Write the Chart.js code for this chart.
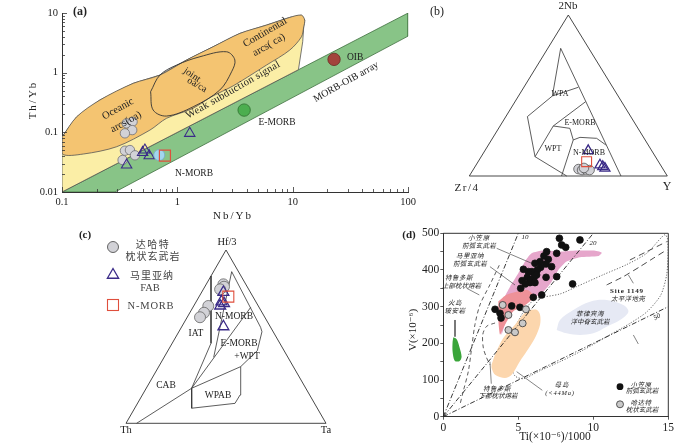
<!DOCTYPE html>
<html><head><meta charset="utf-8">
<script src="https://cdn.jsdelivr.net/npm/chart.js@4.4.1/dist/chart.umd.min.js"></script>
<style>
html,body{margin:0;padding:0;background:#fff}
body{width:700px;height:444px;position:relative;overflow:hidden}
canvas{position:absolute}
</style></head><body>
<canvas id="cd" style="left:400px;top:220px" width="300" height="224"></canvas>
<canvas id="cc" style="left:0px;top:220px" width="420" height="224"></canvas>
<canvas id="ca" style="left:0px;top:0px" width="420" height="225"></canvas>
<canvas id="cb" style="left:420px;top:0px" width="280" height="220"></canvas>
<script>
const SERIF='"Liberation Serif","DejaVu Serif",serif';
const CJK='"Noto Sans CJK SC","Noto Sans CJK JP",sans-serif';

// ================= (a) Th/Yb vs Nb/Yb =================
const aXMajor=[0.1,1,10,100], aXLabels=['0.1','1','10','100'];
const aYMajor=[0.01,0.1,1,10], aYLabels=['0.01','0.1','1','10'];
const aGrayNbYb=[0.363,0.409,0.406,0.351,0.351,0.388,0.429,0.335];
const aGrayThYb=[0.1415,0.151,0.109,0.0962,0.0492,0.0505,0.0412,0.0344];
const aTriNbYb=[0.363,0.523,0.50,0.57,1.28];
const aTriThYb=[0.0283,0.0505,0.046,0.0406,0.0962];
const aNmorbNbYb=[0.696], aNmorbThYb=[0.0416];
const aSquareNbYb=[0.78], aSquareThYb=[0.0406];
const aEmorbNbYb=[3.79], aEmorbThYb=[0.236];
const aOibNbYb=[22.8], aOibThYb=[1.67];
const aArcField=[[0.1006,0.0844],[0.134,0.182],[0.213,0.348],[0.414,0.662],[0.706,0.912],[1.20,1.63],[2.04,2.72],[3.48,4.55],[5.92,6.27],[9.42,8.44],[11.9,9.22],[12.7,7.6],[12.45,5.87],[11.9,3.99],[9.42,2.39],[5.92,1.34],[3.04,0.60],[2.0,0.40],[1.35,0.25],[0.806,0.172],[0.578,0.109],[0.298,0.0574],[0.153,0.0433],[0.1006,0.0433],[0.1006,0.0844]];
const aWeakField=[[0.1,0.0844],[0.134,0.182],[0.213,0.348],[0.414,0.662],[0.706,0.912],[1.20,1.63],[2.04,2.72],[3.48,4.55],[5.92,6.27],[9.42,8.44],[11.9,9.22],[12.7,7.6],[12.45,5.87],[12.2,3.3],[11.2,1.12],[0.1,0.01],[0.1,0.0844]];
const aMorbOibArray=[[0.1,0.01],[100,10],[100,4.1],[0.288,0.01],[0.1,0.01]];
const aJointField=[[0.586,0.479],[0.706,0.912],[0.984,1.34],[1.57,1.85],[2.67,2.24],[3.15,1.63],[2.95,1.035],[2.33,0.511],[1.37,0.268],[0.806,0.1875],[0.617,0.236],[0.586,0.479]];

// ================= (b) 2Nb - Zr/4 - Y  [2Nb, Zr/4, Y] =================
const bOuter=[[100,0,0],[0,100,0],[0,0,100],[100,0,0]];
const bLines=[
 [[79.3,14.2,6.5],[0,23.4,76.6]],
 [[79.3,14.2,6.5],[49.7,33.2,17.1],[36.9,52.2,10.9],[12.0,60.8,27.2],[0,50.8,49.2]],
 [[49.7,33.2,17.1],[55.1,17.4,27.5]],
 [[31.1,42.1,26.9],[46.2,18.2,35.7]],
 [[12.0,60.8,27.2],[31.1,42.1,26.9],[29.6,34.4,36.0],[22.4,36.3,41.3],[0,53.4,46.6]],
 [[22.4,36.3,41.3],[24.0,32.1,43.9],[23.4,24.0,52.6],[19.3,21.4,59.3]]
];
const bGray=[[4.3,42.7,53.0],[3.7,41.2,55.1],[4.0,39.0,57.0],[3.7,37.4,58.9],[5.0,39.6,55.4]];
const bTri=[[15.7,32.1,52.2],[6.8,30.6,62.6],[5.8,29.7,64.5],[4.8,29.1,66.1]];
const bSquare=[[8.9,36.3,54.8]];

// ================= (c) Hf/3 - Th - Ta  [Hf/3, Th, Ta] =================
const cOuter=[[100,0,0],[0,100,0],[0,0,100],[100,0,0]];
const cLines=[
 [[85.0,15.0,0],[46.2,34.4,19.4],[20.2,57.1,22.7]],
 [[0,94.7,5.3],[20.2,57.1,22.7]],
 [[87.5,3.4,9.1],[38.1,37.1,24.8]],
 [[20.2,57.1,22.7],[66.9,4.2,28.9]],
 [[87.5,3.4,9.1],[55.4,5.0,39.6],[52.9,5.6,41.6],[41.9,13.4,44.7],[32.7,26.3,41.0]],
 [[20.2,57.1,22.7],[8.7,62.8,28.5],[11.5,39.7,48.7],[16.3,34.8,48.8],[32.7,26.3,41.0],[20.2,57.1,22.7]]
];
const cGray=[[80.2,11.2,8.6],[78.8,11.6,9.6],[77.3,14.3,8.4],[67.7,25.0,7.3],[63.8,29.1,7.1],[61.2,32.4,6.4]];
const cTri=[[75.6,13.5,10.9],[70.2,17.2,12.6],[69.2,16.4,14.4],[67.7,19.0,13.2],[55.8,23.4,20.8]];
const cSquare=[[73.1,12.3,14.6]];

// ================= (d) V vs Ti/1000 =================
const dXTicks=[0,5,10,15], dXLabels=['0','5','10','15'];
const dYTicks=[0,50,100,150,200,250,300,350,400,450,500];
const dYMajor=[0,100,200,300,400,500], dYLabels=['0','100','200','300','400','500'];
const dBlackTi=[7.74,9.11,7.89,8.16,7.56,6.89,6.71,7.0,6.45,6.11,6.85,6.49,5.34,6.27,5.91,5.60,5.83,5.25,6.05,5.78,5.47,6.11,6.85,7.56,5.16,8.62,6.56,6.0,3.45,3.78,3.85,4.56,5.11,7.22,6.22,5.67];
const dBlackV=[486.4,481.9,468.2,461.9,445.5,450,438.2,429.1,422.8,418.2,416.4,407.3,401.9,400,395.5,380,372.8,371,380,365.5,361.9,365.5,380,381.8,350,361.9,331.9,325.5,292.8,281.9,269.1,301.9,298.2,409.1,386.4,395.5];
const dGrayTi=[3.96,4.34,5.51,5.29,4.34,4.78];
const dGrayV=[304.6,277.3,292.8,254.6,236.4,230.1];
const dTiV10=[[0,0],[5,500]], dTiV20=[[0,0],[10,500]], dTiV50=[[0,0],[15,300]];
const dPinkField=[[3.89,222.8],[3.78,272.8],[4.0,318.2],[4.45,354.6],[5.0,391],[5.51,427.3],[5.89,445.5],[6.67,452.8],[7.78,450],[8.89,452.8],[10.0,452.8],[10.56,447.3],[10.34,438.2],[9.11,434.6],[8.22,422.8],[7.67,400],[7.22,368.2],[6.67,341],[6.0,322.8],[5.11,309.1],[4.22,263.7],[3.89,222.8]];
const dRedField=[[3.67,314.6],[4.22,332.8],[5.56,346.4],[6.0,332.8],[5.89,319.1],[5.34,300.9],[4.67,287.3],[4.0,241.9],[3.78,223.7],[3.67,263.7],[3.67,314.6]];
const dPeachField=[[3.22,141.9],[3.45,169.2],[4.0,214.6],[4.78,251],[5.56,287.3],[6.22,291.9],[6.45,278.2],[6.45,251],[6.11,214.6],[5.56,178.3],[5.11,151],[4.56,114.6],[4.11,105.5],[3.45,114.6],[3.22,132.8],[3.22,141.9]];
const dGreenField=[[0.67,216.4],[0.89,211],[1.07,191],[1.22,163.7],[1.07,151],[0.76,152.8],[0.62,177.3],[0.62,204.6],[0.67,216.4]];
const dBlueField=[[7.56,236.4],[7.78,263.7],[8.67,291],[9.78,313.7],[10.89,318.2],[12.0,304.6],[12.34,286.4],[11.78,263.7],[10.89,245.5],[10.0,227.3],[9.11,222.8],[8.22,227.3],[7.56,236.4]];
const dDottedField=[[6.11,322.8],[5.45,292.8],[4.78,241.9],[4.49,187.3],[4.49,141.9],[4.78,111],[5.34,103.7],[6.45,125.5],[7.78,150.1],[9.34,181.9],[10.89,218.3],[12.45,254.6],[13.56,285.5],[14.49,331],[14.89,386.4],[14.98,445.5],[14.94,486.4],[14.78,496.4],[14.49,486.4],[13.56,445.5],[12.22,414.6],[10.67,387.3],[8.89,354.6],[7.78,334.6],[6.11,322.8]];
const dSiteA=[[10.89,359.2],[12.0,381.8],[13.11,409],[14.0,432],[14.89,454.6]];
const dSiteB=[[12.44,427.3],[13.56,450],[14.89,477.2]];
const dTroodosUpper=[[3.73,412.9],[3.11,360],[2.45,305.4],[2.11,250.9],[1.89,187.4],[1.67,123.8],[1.33,69.3],[1.11,32.7]];
const dTroodosLower=[[3.45,255.5],[2.89,246.5],[2.63,223.6],[2.67,187.4],[2.89,160.1],[3.11,141.8]];
const dLeaders=[
 [[3.56,459.1],[5.89,418.2]],
 [[3.11,409.1],[4.78,359.1]],
 [[1.56,350],[2.40,331.9]],
 [[0.78,263.7],[0.78,218.2]],
 [[3.11,150],[3.2,90]],
 [[4.89,122.8],[6.6,72]],
 [[12.34,386.4],[12.67,363.7]],
 [[12.67,222.8],[13.0,198.3]]
];

// ================= helpers =================
Chart.defaults.animation=false;
Chart.defaults.events=[];
Chart.defaults.font.family=SERIF;
Chart.defaults.color='#222';
Chart.defaults.plugins.legend.display=false;
Chart.defaults.plugins.tooltip.enabled=false;

const toXY=a=>a.map(p=>({x:p[0],y:p[1]}));
const zipXY=(xs,ys)=>xs.map((x,i)=>({x,y:ys[i]}));
function tern(t,l,r){const s=t+l+r;return {x:(r+t/2)/s,y:t/s};}
const ternXY=a=>a.map(p=>tern(p[0],p[1],p[2]));
function poly(data,opt){return Object.assign({data,pointRadius:0,borderWidth:0.8,borderColor:'#333',tension:0,fill:false,showLine:true},opt);}
function marks(data,opt){return Object.assign({data,showLine:false,pointRadius:4,pointBorderWidth:0.8},opt);}
function logTicks(m){const t=[];for(let i=0;i<m.length;i++){t.push(m[i]);if(i<m.length-1)for(let k=2;k<=9;k++)t.push(+(m[i]*k).toPrecision(3));}return t;}
const NONE='rgba(0,0,0,0)';
const GRAYF='#d2d2d7', GRAYB='#707076', TRI='#3b2b88', RED='#df4f3d';

const polyFillPlugin={id:'polyFill',beforeDatasetDraw(chart,args){
  const ds=chart.data.datasets[args.index]; if(!ds.polyFill) return;
  const meta=args.meta, ctx=chart.ctx, a=chart.chartArea, line=meta.dataset; if(!line) return;
  ctx.save(); ctx.beginPath(); ctx.rect(a.left,a.top,a.right-a.left,a.bottom-a.top); ctx.clip();
  if(line.updateControlPoints) line.updateControlPoints(a,'x');
  ctx.beginPath(); line.path(ctx); ctx.closePath(); ctx.fillStyle=ds.polyFill; ctx.fill(); ctx.restore();
}};
function textLayer(items,ox,oy,extra){return {id:'textLayer',afterDraw(chart){
  const ctx=chart.ctx;
  if(extra) extra(chart,ctx,ox,oy);
  for(const it of items){ctx.save();ctx.font=it.f;ctx.fillStyle=it.c||'#222';ctx.textAlign=it.a||'center';ctx.textBaseline='middle';
    if('letterSpacing' in ctx) ctx.letterSpacing=(it.ls||0)+'px';
    ctx.translate(it.x-ox,it.y-oy); if(it.r) ctx.rotate(it.r*Math.PI/180); ctx.fillText(it.t,0,0); ctx.restore();}
}};}

// ================= chart (a) =================
const textsA=[
 {t:'(a)',x:80,y:12,f:'bold 12px '+SERIF},
 {t:'Th/Yb',x:33,y:100,f:'11px '+SERIF,r:-90,ls:2},
 {t:'Nb/Yb',x:233,y:216,f:'11px '+SERIF,ls:2},
 {t:'Oceanic',x:118,y:109,f:'10.5px '+SERIF,r:-29},
 {t:'arcs(oa)',x:126,y:122,f:'10.5px '+SERIF,r:-29},
 {t:'joint',x:192,y:75,f:'10px '+SERIF,r:35},
 {t:'oa/ca',x:197,y:85,f:'10px '+SERIF,r:30},
 {t:'Continental',x:265,y:32.5,f:'10.5px '+SERIF,r:-30},
 {t:'arcs( ca)',x:269,y:45,f:'10.5px '+SERIF,r:-30},
 {t:'Weak subduction signal',x:233,y:90,f:'10.5px '+SERIF,r:-29.7,ls:0.3},
 {t:'MORB-OIB array',x:346,y:82,f:'10px '+SERIF,r:-29.4},
 {t:'OIB',x:347,y:57,f:'9.5px '+SERIF,a:'left'},
 {t:'E-MORB',x:277,y:122,f:'9.5px '+SERIF},
 {t:'N-MORB',x:194,y:173,f:'9.5px '+SERIF}
];
const inTicksA={id:'inTicks',afterDatasetsDraw(chart){
  const ctx=chart.ctx,a=chart.chartArea,sx=chart.scales.x,sy=chart.scales.y;
  ctx.save();ctx.strokeStyle='#333';ctx.lineWidth=0.8;ctx.beginPath();
  for(const v of logTicks(aXMajor)){const p=Math.round(sx.getPixelForValue(v))+0.5;const L=aXMajor.includes(v)?5:3;ctx.moveTo(p,a.bottom);ctx.lineTo(p,a.bottom-L);}
  for(const v of logTicks(aYMajor)){const p=Math.round(sy.getPixelForValue(v))+0.5;const L=aYMajor.includes(v)?5:3;ctx.moveTo(a.left,p);ctx.lineTo(a.left+L,p);}
  ctx.stroke();ctx.restore();
}};
new Chart(document.getElementById('ca'),{
 type:'line',
 data:{datasets:[
  marks(zipXY(aOibNbYb,aOibThYb),{order:1,pointRadius:6.2,pointBackgroundColor:'#a3443c',pointBorderColor:'#6b2a22'}),
  marks(zipXY(aEmorbNbYb,aEmorbThYb),{order:1,pointRadius:6.2,pointBackgroundColor:'#4cae4f',pointBorderColor:'#2c6e2c'}),
  marks(zipXY(aSquareNbYb,aSquareThYb),{order:2,pointStyle:'rect',pointRadius:7.8,pointBackgroundColor:NONE,pointBorderColor:RED,pointBorderWidth:1.2}),
  marks(zipXY(aNmorbNbYb,aNmorbThYb),{order:3,pointRadius:5.5,pointBackgroundColor:'#a2d6ee',pointBorderColor:'#78aacb'}),
  marks(zipXY(aTriNbYb,aTriThYb),{order:4,pointStyle:'triangle',pointRadius:6,pointBackgroundColor:NONE,pointBorderColor:TRI,pointBorderWidth:1.1}),
  marks(zipXY(aGrayNbYb,aGrayThYb),{order:5,pointRadius:4.7,pointBackgroundColor:GRAYF,pointBorderColor:GRAYB}),
  poly(toXY(aJointField),{order:16,tension:0.35,borderColor:'#333',borderWidth:0.9}),
  poly(toXY(aArcField),{order:17,tension:0.3,polyFill:'#f4c471',borderColor:'#555',borderWidth:0.8}),
  poly(toXY(aWeakField),{order:18,polyFill:'#fbeea6',borderColor:'#555',borderWidth:0.8}),
  poly(toXY(aMorbOibArray),{order:19,polyFill:'#88c487',borderColor:'#3f6f3f',borderWidth:0.8})
 ]},
 options:{responsive:false,layout:{padding:{top:13,right:11,left:0,bottom:0}},
  scales:{
   x:{type:'logarithmic',min:0.1,max:100,
      afterBuildTicks:s=>{s.ticks=logTicks(aXMajor).map(v=>({value:v}));},
      afterFit:s=>{s.height=33;},
      grid:{display:false,drawTicks:false},border:{display:true,color:'#333',width:1},
      ticks:{autoSkip:false,maxRotation:0,minRotation:0,padding:4,font:{size:10.5,family:SERIF},color:'#222',
        callback:v=>{const i=aXMajor.indexOf(v);return i<0?'':aXLabels[i];}}},
   y:{type:'logarithmic',min:0.01,max:10,
      afterBuildTicks:s=>{s.ticks=logTicks(aYMajor).map(v=>({value:v}));},
      afterFit:s=>{s.width=62;},
      grid:{display:false,drawTicks:false},border:{display:true,color:'#333',width:1},
      ticks:{autoSkip:false,padding:4,font:{size:10.5,family:SERIF},color:'#222',
        callback:v=>{const i=aYMajor.indexOf(v);return i<0?'':aYLabels[i];}}}
  }},
 plugins:[polyFillPlugin,inTicksA,textLayer(textsA,0,0)]
});

// ================= chart (b) =================
const textsB=[
 {t:'(b)',x:437,y:12,f:'12px '+SERIF},
 {t:'2Nb',x:568,y:6,f:'11px '+SERIF},
 {t:'Zr/4',x:467,y:188,f:'11px '+SERIF,ls:1.5},
 {t:'Y',x:667,y:187,f:'12px '+SERIF},
 {t:'WPA',x:560,y:94,f:'8px '+SERIF},
 {t:'E-MORB',x:580,y:123,f:'8px '+SERIF},
 {t:'WPT',x:553,y:149,f:'8px '+SERIF},
 {t:'N-MORB',x:589,y:153,f:'8px '+SERIF}
];
new Chart(document.getElementById('cb'),{
 type:'line',
 data:{datasets:[
  marks(ternXY(bTri),{order:3,pointStyle:'triangle',pointRadius:5.8,pointBackgroundColor:NONE,pointBorderColor:TRI,pointBorderWidth:1.3,clip:6}),
  marks(ternXY(bSquare),{order:4,pointStyle:'rect',pointRadius:7,pointBackgroundColor:NONE,pointBorderColor:RED,pointBorderWidth:1.1,clip:6}),
  marks(ternXY(bGray),{order:5,pointRadius:4.8,pointBackgroundColor:GRAYF,pointBorderColor:'#555',clip:6}),
  poly(ternXY(bOuter),{order:10,borderWidth:0.9,clip:4}),
  ...bLines.map(l=>poly(ternXY(l),{order:10,borderWidth:0.8,clip:4}))
 ]},
 options:{responsive:false,layout:{padding:{left:49.3,right:32.7,top:15,bottom:44}},
  scales:{x:{type:'linear',min:0,max:1,display:false},y:{type:'linear',min:0,max:1,display:false}}},
 plugins:[polyFillPlugin,textLayer(textsB,420,0)]
});

// ================= chart (c) =================
const textsC=[
 {t:'(c)',x:85,y:235,f:'bold 11px '+SERIF},
 {t:'Hf/3',x:227,y:242,f:'10.5px '+SERIF},
 {t:'Th',x:126,y:430,f:'10.5px '+SERIF},
 {t:'Ta',x:326,y:430,f:'10.5px '+SERIF},
 {t:'IAT',x:196,y:333,f:'9.5px '+SERIF},
 {t:'N-MORB',x:234,y:316,f:'9.5px '+SERIF},
 {t:'E-MORB',x:239,y:343,f:'9.5px '+SERIF},
 {t:'+WPT',x:247,y:356,f:'9.5px '+SERIF},
 {t:'CAB',x:166,y:385,f:'9.5px '+SERIF},
 {t:'WPAB',x:218,y:395,f:'9.5px '+SERIF},
 {t:'达哈特',x:153,y:244,f:'10px '+CJK,ls:1.5,c:'#444'},
 {t:'枕状玄武岩',x:153,y:256,f:'10px '+CJK,ls:1,c:'#444'},
 {t:'马里亚纳',x:152,y:275,f:'10px '+CJK,ls:1,c:'#444'},
 {t:'FAB',x:150,y:288,f:'10.5px '+SERIF,c:'#444'},
 {t:'N-MORB',x:151,y:306,f:'10.5px '+SERIF,ls:0.8,c:'#444'}
];
function legendC(chart,ctx,ox,oy){
  ctx.save();
  ctx.beginPath();ctx.arc(113-ox,247-oy,5.5,0,Math.PI*2);ctx.fillStyle=GRAYF;ctx.fill();ctx.strokeStyle='#555';ctx.lineWidth=0.9;ctx.stroke();
  const r=6.5,cx=113-ox,cy=275-oy;ctx.beginPath();
  for(let k=0;k<3;k++){const an=k*2*Math.PI/3;const px=cx+Math.sin(an)*r,py=cy-Math.cos(an)*r;k?ctx.lineTo(px,py):ctx.moveTo(px,py);}
  ctx.closePath();ctx.strokeStyle=TRI;ctx.lineWidth=1.3;ctx.stroke();
  ctx.strokeStyle=RED;ctx.lineWidth=1.1;ctx.strokeRect(113-ox-5.5,305-oy-5.5,11,11);
  ctx.restore();
}
new Chart(document.getElementById('cc'),{
 type:'line',
 data:{datasets:[
  marks(ternXY(cSquare),{order:4,pointStyle:'rect',pointRadius:7.8,pointBackgroundColor:NONE,pointBorderColor:RED,pointBorderWidth:1.1,clip:6}),
  marks(ternXY(cTri),{order:5,pointStyle:'triangle',pointRadius:6.3,pointBackgroundColor:NONE,pointBorderColor:TRI,pointBorderWidth:1.3,clip:6}),
  marks(ternXY(cGray),{order:6,pointRadius:5.5,pointBackgroundColor:GRAYF,pointBorderColor:'#666',clip:6}),
  poly(ternXY(cOuter),{order:10,borderWidth:0.9,clip:4}),
  ...cLines.map(l=>poly(ternXY(l),{order:10,borderWidth:0.8,clip:4}))
 ]},
 options:{responsive:false,layout:{padding:{left:126,right:94,top:30,bottom:20.7}},
  scales:{x:{type:'linear',min:0,max:1,display:false},y:{type:'linear',min:0,max:1,display:false}}},
 plugins:[polyFillPlugin,textLayer(textsC,0,220,legendC)]
});

// ================= chart (d) =================
const CJKI='italic 6.5px '+CJK;
const textsD=[
 {t:'(d)',x:409,y:235,f:'bold 11px '+SERIF},
 {t:'V(×10⁻⁶)',x:413,y:330,f:'11px '+SERIF,r:-90},
 {t:'Ti(×10⁻⁶)/1000',x:555,y:437,f:'11.5px '+SERIF},
 {t:'10',x:525,y:237,f:'italic 7px '+SERIF},
 {t:'20',x:593,y:243,f:'italic 7px '+SERIF},
 {t:'50',x:657,y:317,f:'italic 7px '+SERIF,r:-30},
 {t:'小笠原',x:479,y:237.5,f:CJKI,ls:0.8},
 {t:'前弧玄武岩',x:479,y:246,f:CJKI,ls:0.3},
 {t:'马里亚纳',x:470,y:255.5,f:CJKI,ls:0.5},
 {t:'前弧玄武岩',x:470,y:263.5,f:CJKI,ls:0.3},
 {t:'特鲁多斯',x:459,y:277.5,f:CJKI,ls:0.5},
 {t:'上部枕状熔岩',x:461.5,y:285.5,f:CJKI},
 {t:'火岛',x:455,y:303,f:CJKI,ls:0.5},
 {t:'玻安岩',x:455,y:311,f:CJKI,ls:0.5},
 {t:'特鲁多斯',x:497,y:388.5,f:CJKI,ls:0.5},
 {t:'下部枕状熔岩',x:498,y:396,f:CJKI},
 {t:'母岛',x:562,y:385,f:CJKI,ls:1},
 {t:'(<44Ma)',x:560,y:393.5,f:'italic 6.5px '+SERIF,ls:0.8},
 {t:'Site 1149',x:627,y:291,f:'bold 7px '+SERIF,ls:0.8},
 {t:'太平洋地壳',x:628,y:298.5,f:CJKI,ls:0.3},
 {t:'菲律宾海',x:590,y:314,f:CJKI,ls:0.5},
 {t:'洋中脊玄武岩',x:590,y:322,f:CJKI},
 {t:'小笠原',x:641,y:384.5,f:CJKI,ls:0.5},
 {t:'前弧玄武岩',x:642,y:391,f:CJKI},
 {t:'哈达特',x:641,y:402.5,f:CJKI,ls:0.5},
 {t:'枕状玄武岩',x:642,y:409.5,f:CJKI}
];
function frameD(chart,ctx,ox,oy){
  const a=chart.chartArea;ctx.save();ctx.strokeStyle='#333';ctx.lineWidth=1;
  ctx.beginPath();ctx.moveTo(a.left,a.top);ctx.lineTo(a.right,a.top);ctx.lineTo(a.right,a.bottom);ctx.stroke();
  ctx.beginPath();ctx.arc(620-ox,386.7-oy,3.4,0,Math.PI*2);ctx.fillStyle='#111';ctx.fill();
  ctx.beginPath();ctx.arc(620-ox,404.3-oy,3.5,0,Math.PI*2);ctx.fillStyle='#c9c9c9';ctx.fill();ctx.strokeStyle='#333';ctx.lineWidth=0.8;ctx.stroke();
  ctx.restore();
}
const DASHDOT=[5,2,1,2];
new Chart(document.getElementById('cd'),{
 type:'line',
 data:{datasets:[
  marks(zipXY(dGrayTi,dGrayV),{order:1,pointRadius:3.5,pointBackgroundColor:'#c9c9c9',pointBorderColor:'#333',pointBorderWidth:0.8}),
  marks(zipXY(dBlackTi,dBlackV),{order:2,pointRadius:3.4,pointBackgroundColor:'#111',pointBorderColor:'#111'}),
  poly(toXY(dTiV10),{order:8,borderDash:DASHDOT,borderWidth:0.9,borderColor:'#222'}),
  poly(toXY(dTiV20),{order:8,borderDash:DASHDOT,borderWidth:0.9,borderColor:'#222'}),
  poly(toXY(dTiV50),{order:8,borderDash:DASHDOT,borderWidth:0.9,borderColor:'#222'}),
  ...dLeaders.map(l=>poly(toXY(l),{order:9,borderWidth:0.6,borderColor:'#333'})),
  poly(toXY(dTroodosUpper),{order:11,borderDash:[4,3],borderWidth:0.8,borderColor:'#333',tension:0.3}),
  poly(toXY(dTroodosLower),{order:11,borderDash:[4,3],borderWidth:0.8,borderColor:'#333',tension:0.3}),
  poly(toXY(dSiteA),{order:11,borderDash:[6,4],borderWidth:0.9,borderColor:'#333',tension:0.2}),
  poly(toXY(dSiteB),{order:11,borderDash:[6,4],borderWidth:0.9,borderColor:'#333',tension:0.2}),
  poly(toXY(dGreenField),{order:15,polyFill:'#3aa53a',borderColor:NONE,tension:0.3}),
  poly(toXY(dRedField),{order:16,polyFill:'#ee9198',borderColor:NONE,tension:0.2}),
  poly(toXY(dPinkField),{order:17,polyFill:'#e6a6cb',borderColor:NONE,tension:0.2}),
  poly(toXY(dPeachField),{order:18,polyFill:'#fcd6ad',borderColor:NONE,tension:0.3}),
  poly(toXY(dBlueField),{order:19,polyFill:'#e6e9f4',borderColor:NONE,tension:0.35}),
  poly(toXY(dDottedField),{order:20,borderDash:[1.2,1.6],borderWidth:0.8,borderColor:'#444',tension:0.25})
 ]},
 options:{responsive:false,layout:{padding:{top:13.3,right:31.7,left:0,bottom:0}},
  scales:{
   x:{type:'linear',min:0,max:15,
      afterBuildTicks:s=>{s.ticks=dXTicks.map(v=>({value:v}));},
      afterFit:s=>{s.height=27.3;},
      grid:{display:true,drawOnChartArea:false,drawTicks:true,tickLength:3,color:'#333',lineWidth:0.8},
      border:{display:true,color:'#333',width:1},
      ticks:{autoSkip:false,maxRotation:0,minRotation:0,padding:1,font:{size:11.5,family:SERIF},color:'#222',
        callback:v=>{const i=dXTicks.indexOf(v);return i<0?'':dXLabels[i];}}},
   y:{type:'linear',min:0,max:500,
      afterBuildTicks:s=>{s.ticks=dYTicks.map(v=>({value:v}));},
      afterFit:s=>{s.width=43.3;},
      grid:{display:true,drawOnChartArea:false,drawTicks:true,tickLength:3,color:'#333',lineWidth:0.8},
      border:{display:true,color:'#333',width:1},
      ticks:{autoSkip:false,padding:1,font:{size:11.5,family:SERIF},color:'#222',
        callback:v=>{const i=dYMajor.indexOf(v);return i<0?'':dYLabels[i];}}}
  }},
 plugins:[polyFillPlugin,textLayer(textsD,400,220,frameD)]
});
</script></body></html>
